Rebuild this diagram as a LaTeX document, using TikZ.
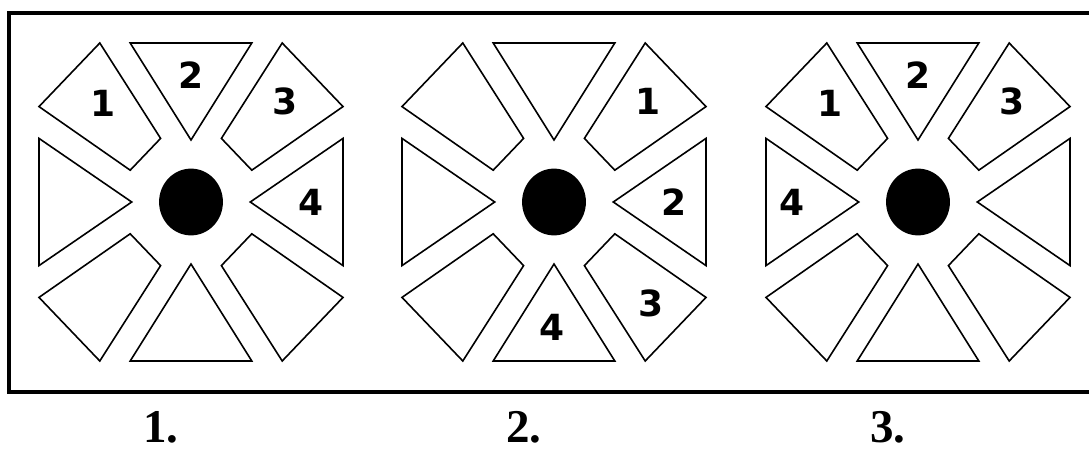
\documentclass[tikz,border=0pt]{standalone}
\usepackage{fontspec}
\setmainfont{Liberation Serif}
\newfontfamily\pixfont{DejaVu Sans}
\usepackage{tikz}

\tikzset{
  tile/.style={line width=1.6pt, line join=miter},
  hub/.style={fill=black},
  seglab/.style={font=\pixfont\bfseries\fontsize{36}{36}\selectfont, inner sep=0pt},
  caption/.style={font=\bfseries\fontsize{47}{47}\selectfont, inner sep=0pt, text depth=0pt, anchor=base},
}

\begin{document}
\begin{tikzpicture}[x=1pt, y=1pt]
    \useasboundingbox (0,0) rectangle (1089,448);

    % Frame, running off on the right
    \draw[line width=4pt, line join=miter] (1089,435) -- (9,435) -- (9,56) -- (1089,56);

    % Three octagon figures
    \foreach \cx/\n in {191/1, 554/2, 918/3} {
      \begin{scope}[shift={(\cx,246)}, xscale=152, yscale=159]
        % triangles N/S and W/E
        \foreach \s in {-1,1} {
          \draw[tile] (-0.4,\s) -- (0.4,\s) -- (0,{0.39*\s}) -- cycle;
          \draw[tile] (\s,0.4) -- (\s,-0.4) -- ({0.39*\s},0) -- cycle;
        }
        % diagonal quads
        \foreach \sx in {-1,1} {
          \foreach \sy in {-1,1} {
            \draw[tile] ({0.6*\sx},\sy) -- (\sx,{0.6*\sy}) -- ({0.4*\sx},{0.2*\sy}) -- ({0.2*\sx},{0.4*\sy}) -- cycle;
          }
        }
        \fill[hub] (0,0) circle (0.21);
        % label spots
        \coordinate (tl\n) at (-0.58,0.62);
        \coordinate (tp\n) at (0,0.80);
        \coordinate (tr\n) at (0.62,0.63);
        \coordinate (rt\n) at (0.79,0);
        \coordinate (br\n) at (0.64,-0.64);
        \coordinate (bt\n) at (-0.01,-0.79);
        \coordinate (lt\n) at (-0.83,0);
      \end{scope}
      \node[caption] (cap\n) at ({\cx-30},6) {\n.};
    }

    % Figure 1
    \node[seglab] (a1) at (tl1) {1};
    \node[seglab] (a2) at (tp1) {2};
    \node[seglab] (a3) at (tr1) {3};
    \node[seglab] (a4) at (rt1) {4};

    % Figure 2
    \node[seglab] (b1) at (tr2) {1};
    \node[seglab] (b2) at (rt2) {2};
    \node[seglab] (b3) at (br2) {3};
    \node[seglab] (b4) at (bt2) {4};

    % Figure 3
    \node[seglab] (c1) at (tl3) {1};
    \node[seglab] (c2) at (tp3) {2};
    \node[seglab] (c3) at (tr3) {3};
    \node[seglab] (c4) at (lt3) {4};
\end{tikzpicture}
\end{document}
